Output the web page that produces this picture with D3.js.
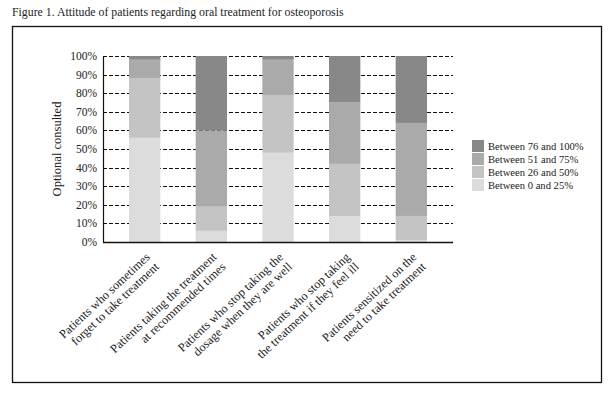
<!DOCTYPE html>
<html>
<head>
<meta charset="utf-8">
<script src="https://cdn.jsdelivr.net/npm/d3@7"></script>
<style>
body { margin: 0; background: #fff; }
text { font-family: "Liberation Serif", "DejaVu Serif", serif; fill: #222; }
</style>
</head>
<body>
<div id="chart"></div>
<script>
// categories (two lines each) and stacked shares, bottom to top
const categories = [
  ["Patients who sometimes", "forget to take treatment"],
  ["Patients taking the treatment", "at recommended times"],
  ["Patients who stop taking the", "dosage when they are well"],
  ["Patients who stop taking", "the treatment if they feel ill"],
  ["Patients sensitized on the", "need to take treatment"]
];
const seriesNames = ["Between 0 and 25%", "Between 26 and 50%", "Between 51 and 75%", "Between 76 and 100%"];
const between0and25 = [56, 6, 48, 14, 1];
const between26and50 = [32, 13, 31, 28, 13];
const between51and75 = [10, 41, 19, 33, 50];
const between76and100 = [2, 40, 2, 25, 36];
const yTicks = [0, 10, 20, 30, 40, 50, 60, 70, 80, 90, 100];
const colors = ["#dcdcdc", "#c3c3c3", "#aaaaaa", "#888888"];

const width = 614, height = 400;
const plot = { left: 103, right: 453, top: 56, bottom: 242 };

const svg = d3.select("#chart").append("svg")
    .attr("width", width)
    .attr("height", height);

// title + frame
svg.append("text")
    .attr("x", 12)
    .attr("y", 16)
    .style("font-size", "11.8px")
    .text("Figure 1. Attitude of patients regarding oral treatment for osteoporosis");

svg.append("rect")
    .attr("x", 12.5).attr("y", 26.5)
    .attr("width", 589).attr("height", 356)
    .attr("fill", "none")
    .attr("stroke", "#111")
    .attr("stroke-width", 1.3);

const table = categories.map((c, i) => ({
    key: i,
    [seriesNames[0]]: between0and25[i],
    [seriesNames[1]]: between26and50[i],
    [seriesNames[2]]: between51and75[i],
    [seriesNames[3]]: between76and100[i]
}));

const x = d3.scaleBand()
    .domain(d3.range(categories.length))
    .range([plot.left, plot.right])
    .paddingInner(0.53)
    .paddingOuter(0.39);

const y = d3.scaleLinear()
    .domain([0, 100])
    .range([plot.bottom, plot.top]);

// dashed grid
svg.append("g")
    .selectAll("line")
    .data(yTicks.filter(d => d > 0))
    .enter().append("line")
    .attr("x1", plot.left).attr("x2", plot.right)
    .attr("y1", d => Math.round(y(d)) + 0.5)
    .attr("y2", d => Math.round(y(d)) + 0.5)
    .attr("stroke", "#111")
    .attr("stroke-dasharray", "4,2");

const stack = d3.stack().keys(seriesNames)(table);

svg.append("g")
    .selectAll("g")
    .data(stack)
    .enter().append("g")
    .attr("fill", (d, i) => colors[i])
    .selectAll("rect")
    .data(d => d)
    .enter().append("rect")
    .attr("x", d => x(d.data.key))
    .attr("width", x.bandwidth())
    .attr("y", d => y(d[1]))
    .attr("height", d => y(d[0]) - y(d[1]));

// axes lines
svg.append("line")
    .attr("x1", plot.left + 0.5).attr("x2", plot.left + 0.5)
    .attr("y1", plot.top).attr("y2", plot.bottom)
    .attr("stroke", "#111").attr("stroke-width", 1.2);
svg.append("line")
    .attr("x1", plot.left).attr("x2", plot.right)
    .attr("y1", plot.bottom + 0.5).attr("y2", plot.bottom + 0.5)
    .attr("stroke", "#111").attr("stroke-width", 1.4);

// y tick labels
svg.append("g")
    .selectAll("text")
    .data(yTicks)
    .enter().append("text")
    .attr("x", plot.left - 6)
    .attr("y", d => y(d) + 4)
    .attr("text-anchor", "end")
    .style("font-size", "11.5px")
    .text(d => d + "%");

svg.append("text")
    .attr("transform", `translate(61,${(plot.top + plot.bottom) / 2}) rotate(-90)`)
    .attr("text-anchor", "middle")
    .style("font-size", "12.5px")
    .text("Optional consulted");

// x labels rotated
const xl = svg.append("g")
    .selectAll("text")
    .data(categories)
    .enter().append("text")
    .attr("transform", (d, i) => `translate(${x(i) + x.bandwidth() / 2 + 6},${plot.bottom + 16}) rotate(-43)`)
    .attr("text-anchor", "end")
    .style("font-size", "12.3px");
xl.selectAll("tspan")
    .data(d => d)
    .enter().append("tspan")
    .attr("x", 0)
    .attr("dy", (d, i) => i === 0 ? "0" : "1.08em")
    .text(d => d);

// legend, top entry darkest
const legend = svg.append("g")
    .selectAll("g")
    .data(seriesNames.slice().reverse())
    .enter().append("g")
    .attr("transform", (d, i) => `translate(472,${140 + i * 13})`);
legend.append("rect")
    .attr("width", 12).attr("height", 12)
    .attr("fill", (d, i) => colors[colors.length - 1 - i]);
legend.append("text")
    .attr("x", 16).attr("y", 10)
    .style("font-size", "10.6px")
    .text(d => d);
</script>
</body>
</html>
